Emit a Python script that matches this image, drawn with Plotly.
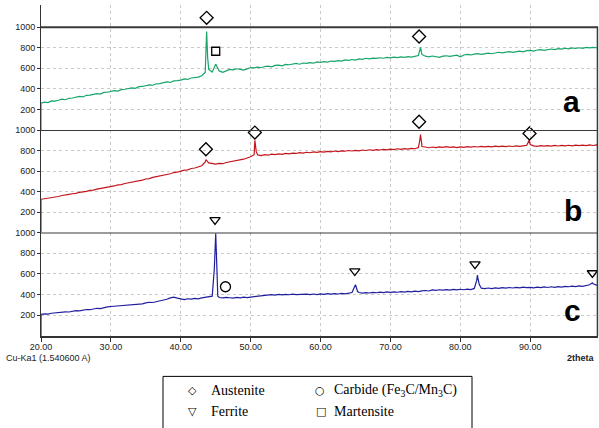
import plotly.graph_objects as go

# ---------------- data ----------------
two_theta = [20 + 0.5 * i for i in range(161)]  # 20.0 ... 100.0

int_a = [262, 271, 268, 283, 281, 290, 301, 295, 309, 312,
         316, 327, 322, 338, 340, 344, 355, 350, 366, 368,
         373, 384, 379, 393, 397, 401, 411, 406, 422, 424,
         431, 440, 436, 450, 452, 457, 468, 463, 478, 481,
         485, 497, 492, 506, 508, 515, 528, 560, 590, 565,
         600, 575, 562, 575, 590, 585, 596, 590, 583, 595,
         608, 605, 612, 606, 618, 622, 615, 628, 631, 624,
         638, 635, 642, 648, 640, 652, 648, 655, 650, 662,
         658, 665, 660, 671, 668, 675, 670, 682, 678, 686,
         680, 692, 688, 698, 692, 700, 696, 703, 698, 706,
         702, 709, 704, 712, 707, 714, 710, 718, 725, 735,
         718, 712, 720, 714, 706, 718, 722, 716, 724, 728,
         712, 730, 735, 730, 738, 742, 736, 745, 748, 742,
         752, 756, 750, 758, 762, 756, 765, 768, 761, 772,
         775, 768, 778, 782, 775, 785, 788, 782, 792, 786,
         795, 790, 798, 793, 800, 795, 803, 798, 804, 800,
         806]
peak_a_x = [43.6, 43.7, 43.85, 45.0, 74.3]
peak_a_y = [760, 957, 700, 641, 804]

int_b = [325, 330, 334, 343, 347, 352, 362, 364, 373, 379,
         382, 393, 396, 402, 412, 414, 424, 430, 433, 445,
         448, 455, 466, 468, 479, 485, 489, 501, 504, 512,
         523, 526, 538, 545, 549, 562, 566, 574, 586, 589,
         600, 610, 612, 625, 630, 640, 652, 690, 680, 672,
         668, 676, 672, 684, 690, 694, 702, 712, 716, 728,
         740, 760, 758, 752, 760, 755, 765, 760, 768, 763,
         772, 768, 776, 772, 780, 776, 784, 779, 787, 783,
         790, 786, 793, 788, 796, 791, 798, 794, 801, 796,
         803, 798, 806, 801, 808, 803, 810, 806, 812, 808,
         815, 810, 818, 812, 820, 815, 822, 818, 830, 840,
         835, 828, 835, 830, 836, 831, 838, 832, 837, 830,
         836, 832, 839, 834, 840, 835, 841, 836, 842, 837,
         843, 838, 844, 839, 845, 840, 846, 841, 847, 852,
         860, 846, 842, 848, 843, 849, 844, 850, 845, 851,
         846, 852, 847, 853, 848, 854, 849, 855, 850, 856,
         851]
peak_b_x = [43.6, 50.6, 50.8, 74.2, 74.3, 74.45, 89.85]
peak_b_y = [712, 900, 790, 900, 957, 880, 900]

int_c = [208, 214, 212, 220, 224, 222, 230, 234, 232, 241,
         246, 243, 252, 256, 254, 264, 268, 265, 276, 281,
         285, 288, 293, 291, 299, 303, 300, 309, 313, 311,
         320, 326, 324, 332, 338, 344, 355, 368, 375, 366,
         358, 352, 360, 356, 364, 359, 368, 372, 375, 385,
         380, 372, 368, 374, 370, 366, 373, 369, 375, 371,
         376, 380, 386, 392, 398, 395, 400, 396, 402, 398,
         403, 399, 404, 400, 402, 398, 404, 400, 406, 401,
         407, 403, 409, 404, 410, 406, 412, 407, 413, 420,
         440, 420, 414, 420, 416, 422, 418, 424, 420, 426,
         421, 427, 423, 429, 425, 431, 427, 433, 429, 436,
         440, 435, 446, 441, 447, 443, 449, 444, 450, 446,
         452, 447, 453, 449, 460, 565, 462, 458, 464, 459,
         466, 461, 467, 462, 469, 464, 470, 465, 472, 467,
         470, 465, 472, 468, 474, 469, 476, 471, 478, 473,
         480, 476, 482, 477, 484, 479, 486, 495, 505, 492,
         488]
peak_c_x = [44.8, 45.0, 45.3, 65.0, 65.3, 82.35, 82.45, 82.7, 98.9]
peak_c_y = [650, 990, 385, 495, 430, 540, 590, 500, 514]

start_value = 0  # each scan starts from zero at 20 deg

# phase markers (intensity scale of their own panel)
aust_a_x, aust_a_y = [43.7, 74.1], [1091, 909]
mart_a_x, mart_a_y = [45.0], [766]
aust_b_x, aust_b_y = [43.6, 50.6, 74.1, 89.9], [813, 976, 1081, 967]
ferr_c_x, ferr_c_y = [44.9, 64.9, 82.1, 98.9], [1123, 628, 695, 609]
carb_c_x, carb_c_y = [46.4], [476]

x_ticks = [20, 30, 40, 50, 60, 70, 80, 90]
y_ticks = [200, 400, 600, 800, 1000]
panel_top = 1000

assert len(int_a) == len(int_b) == len(int_c) == len(two_theta)


def merge(base, px, py):
    pts = dict(zip(two_theta, base))
    for x, y in zip(px, py):
        pts[x] = y
    xs = sorted(pts)
    return [20.0] + xs, [start_value] + [pts[x] for x in xs]


xa, ya = merge(int_a, peak_a_x, peak_a_y)
xb, yb = merge(int_b, peak_b_x, peak_b_y)
xc, yc = merge(int_c, peak_c_x, peak_c_y)

# ---------------- figure ----------------
W, H = 599, 428
L, R, T, B = 41, 1, 0, 92
PW, PH = W - L - R, H - T - B


def px2paper(px, py):
    return (px - L) / PW, (H - B - py) / PH


fig = go.Figure()
line_w = 1.2
fig.add_trace(go.Scatter(x=xc, y=yc, mode="lines", line=dict(color="#1f1f9e", width=line_w),
                         xaxis="x", yaxis="y"))
fig.add_trace(go.Scatter(x=xb, y=yb, mode="lines", line=dict(color="#c3151c", width=line_w),
                         xaxis="x2", yaxis="y2"))
fig.add_trace(go.Scatter(x=xa, y=ya, mode="lines", line=dict(color="#17a56a", width=line_w),
                         xaxis="x3", yaxis="y3"))

panel_axes = [("x", "y"), ("x2", "y2"), ("x3", "y3")]


def marks(x, y, sym, size, panel):
    # points above a panel's top are drawn in the panel stacked above
    # (its zero sits on this panel's 1000 line, same scale)
    groups = {}
    for xi, yi in zip(x, y):
        p, v = panel, yi
        if v > panel_top and panel < 2:
            p, v = panel + 1, v - panel_top
        groups.setdefault(p, ([], []))
        groups[p][0].append(xi)
        groups[p][1].append(v)
    for p, (gx, gy) in groups.items():
        xa_, ya_ = panel_axes[p]
        fig.add_trace(go.Scatter(x=gx, y=gy, mode="markers", cliponaxis=False,
                                 marker=dict(symbol=sym, size=size, color="black",
                                             line=dict(color="black", width=1.3)),
                                 xaxis=xa_, yaxis=ya_))


marks(aust_a_x, aust_a_y, "diamond-open", 10, 2)
marks(mart_a_x, mart_a_y, "square-open", 8, 2)
marks(aust_b_x, aust_b_y, "diamond-open", 10, 1)
marks(ferr_c_x, ferr_c_y, "triangle-down-open", 9, 0)
marks(carb_c_x, carb_c_y, "circle-open", 10, 0)

grid = dict(showgrid=True, gridcolor="#c9c9c9", griddash="dot", gridwidth=1, zeroline=False)
tickfont = dict(family="Liberation Sans, Arial", size=9, color="#222")
xr = [20, 99.7]

d1 = 105 / PH
d2 = 209 / PH
top_range = 127 / 104.5 * 1000

fig.update_layout(
    width=W, height=H, margin=dict(l=L, r=R, t=T, b=B),
    plot_bgcolor="rgba(0,0,0,0)", paper_bgcolor="white", showlegend=False,
    xaxis=dict(range=xr, anchor="y", tickvals=x_ticks, ticktext=[f"{v:.2f}" for v in x_ticks],
               ticks="outside", ticklen=4, tickcolor="#333", showline=True, linecolor="#333",
               linewidth=2, tickfont=tickfont, ticklabelstandoff=-3, **grid),
    xaxis2=dict(range=xr, anchor="y2", matches="x", tickvals=x_ticks, showticklabels=False, **grid),
    xaxis3=dict(range=xr, anchor="y3", matches="x", tickvals=x_ticks, showticklabels=False, **grid),
    yaxis=dict(domain=[0, d1], range=[0, 1000], anchor="x", tickvals=y_ticks, ticks="outside",
               ticklen=3, tickcolor="#333", showline=True, linecolor="#333", linewidth=1,
               tickfont=tickfont, **grid),
    yaxis2=dict(domain=[d1, d2], range=[0, 1000], anchor="x2", tickvals=y_ticks, ticks="outside",
                ticklen=3, tickcolor="#333", showline=True, linecolor="#333", linewidth=1,
                tickfont=tickfont, **grid),
    yaxis3=dict(domain=[d2, 1], range=[0, top_range], anchor="x3", tickvals=y_ticks, ticks="outside",
                ticklen=3, tickcolor="#333", showline=True, linecolor="#333", linewidth=1,
                tickfont=tickfont, **grid),
)

shapes = []
for yr in ["y", "y2", "y3"]:
    shapes.append(dict(type="line", xref="paper", yref=yr, x0=0, x1=1, y0=1000, y1=1000,
                       line=dict(color="#3a3a3a", width=2)))
top_frac = (H - B - 22) / PH
shapes.append(dict(type="line", xref="paper", yref="paper", x0=0.999, x1=0.999, y0=0, y1=top_frac,
                   line=dict(color="#3a3a3a", width=1.5)))
lx0, ly1 = px2paper(163, 377)
lx1, ly0 = px2paper(472, 440)
shapes.append(dict(type="rect", xref="paper", yref="paper", x0=lx0, x1=lx1, y0=ly0, y1=ly1,
                   line=dict(color="black", width=1)))
fig.update_layout(shapes=shapes)

ann = []
for letter, (px, py) in zip(["a", "b", "c"], [(571, 117), (573, 227), (572, 329)]):
    x, y = px2paper(px, py)
    ann.append(dict(text=f"<b>{letter}</b>", x=x, y=y, xref="paper", yref="paper",
                    xanchor="center", yanchor="bottom", showarrow=False,
                    font=dict(family="Liberation Sans, Arial", size=30, color="black")))

x, y = px2paper(4, 358)
ann.append(dict(text="Cu-Ka1 (1.540600 A)", x=x, y=y, xref="paper", yref="paper",
                xanchor="left", yanchor="middle", showarrow=False,
                font=dict(family="Liberation Sans, Arial", size=9, color="#222")))
x, y = px2paper(597, 358)
ann.append(dict(text="<b>2theta</b>", x=x, y=y, xref="paper", yref="paper",
                xanchor="right", yanchor="middle", showarrow=False,
                font=dict(family="Liberation Sans, Arial", size=9, color="#222")))

legend_items = [("\u25C7", "Austenite", 192, 209, 391),
                ("\u25CB", "Carbide (Fe<sub>3</sub>C/Mn<sub>3</sub>C)", 320, 332, 391),
                ("\u25BD", "Ferrite", 192, 209, 413),
                ("\u25A1", "Martensite", 321, 332, 413)]
for sym, label, sx, tx, ty in legend_items:
    x, y = px2paper(sx, ty)
    ann.append(dict(text=sym, x=x, y=y, xref="paper", yref="paper", xanchor="center",
                    yanchor="middle", showarrow=False,
                    font=dict(family="DejaVu Sans", size=11, color="black")))
    x, y = px2paper(tx, ty)
    ann.append(dict(text=label, x=x, y=y, xref="paper", yref="paper", xanchor="left",
                    yanchor="middle", showarrow=False,
                    font=dict(family="Liberation Serif, Times New Roman", size=14, color="black")))
fig.update_layout(annotations=ann)

fig.write_html("out.html")
